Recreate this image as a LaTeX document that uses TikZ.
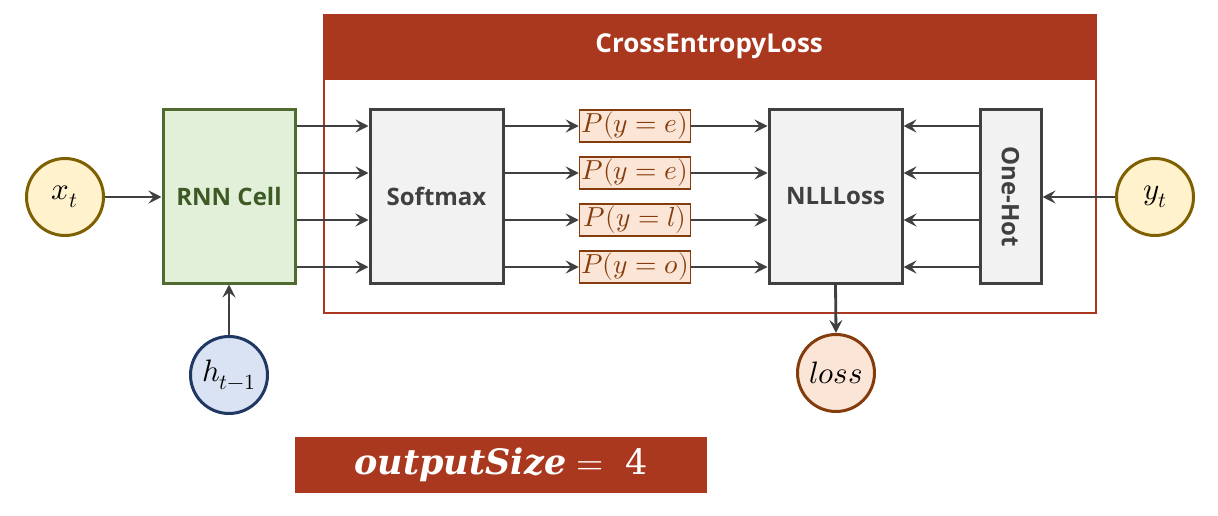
\documentclass[tikz,border=0pt]{standalone}
\usepackage{fontspec}
\usepackage{unicode-math}
\setmathfont{Latin Modern Math}
\setsansfont{Open Sans}
\newfontfamily\bannerfont{DejaVu Serif}
\usetikzlibrary{arrows.meta,positioning}
\definecolor{hdrred}{HTML}{A9381F}
\definecolor{grnfill}{HTML}{E2EFD9}
\definecolor{grnline}{HTML}{4F6B2F}
\definecolor{grntext}{HTML}{3D5A24}
\definecolor{grayfill}{HTML}{F2F2F2}
\definecolor{grayline}{HTML}{404040}
\definecolor{pfill}{HTML}{FBE5D6}
\definecolor{pline}{HTML}{843C0C}
\definecolor{yfill}{HTML}{FFF2CC}
\definecolor{yline}{HTML}{7F6000}
\definecolor{bfill}{HTML}{DAE3F3}
\definecolor{bline}{HTML}{203864}
\tikzset{
  x=1pt,y=-1pt,
  lblfont/.style={font=\sffamily\bfseries\fontsize{24}{28}\selectfont},
  blockbox/.style={draw=grayline,fill=grayfill,line width=3pt,minimum width=133pt,minimum height=173pt,inner sep=0pt,
     lblfont,text=grayline},
  pbox/.style={draw=pline,fill=pfill,line width=1.5pt,minimum width=111pt,minimum height=32pt,inner sep=0pt,
     text=pline,font=\fontsize{27.5}{29}\selectfont},
  varcirc/.style={circle,line width=3pt,minimum size=77pt,inner sep=0pt,font=\fontsize{31}{33}\selectfont},
  conn/.style={draw=grayline,line width=2.8pt,-{Stealth[length=13pt,width=13pt,inset=5pt]}},
}
\begin{document}
\begin{tikzpicture}
\useasboundingbox (0,0) rectangle (1218,516);
% outer CrossEntropyLoss frame
\node[draw=hdrred,line width=2pt,minimum width=772pt,minimum height=298pt,inner sep=0pt,anchor=north west] (ce) at (323,14) {};
\node[fill=hdrred,minimum width=773pt,minimum height=66pt,inner sep=0pt,anchor=north west,text=white,
      font=\sffamily\bfseries\fontsize{26}{30}\selectfont] (cehdr) at (322.5,13.5) {CrossEntropyLoss};
% row coordinates
\coordinate (r1) at (0,126);
\coordinate (r2) at (0,173);
\coordinate (r3) at (0,220);
\coordinate (r4) at (0,267);
% blocks
\node[blockbox,draw=grnline,fill=grnfill,text=grntext,minimum width=132pt] (rnn) at (229,196.5) {RNN Cell};
\node[blockbox] (soft) at (436.5,196.5) {Softmax};
\node[blockbox] (nll) at (835.5,196.5) {NLLLoss};
\node[blockbox,minimum width=61pt] (oh) at (1010.5,196.5) {};
\node[rotate=-90,lblfont,text=grayline] (ohtext) at (oh.center) {One-Hot};
% probability boxes
\node[pbox] (p1) at (635,126) {$P(y=e)$};
\node[pbox] (p2) at (635,173) {$P(y=e)$};
\node[pbox] (p3) at (635,220) {$P(y=l)$};
\node[pbox] (p4) at (635,267) {$P(y=o)$};
% circles
\node[varcirc,draw=yline,fill=yfill] (xt) at (65,197) {$x_t$};
\node[varcirc,draw=bline,fill=bfill] (ht) at (229,375) {$h_{t-1}$};
\node[varcirc,draw=yline,fill=yfill] (yt) at (1155,197) {$y_t$};
\node[varcirc,draw=pline,fill=pfill] (loss) at (836,373) {$loss$};
% output size banner
\node[fill=hdrred,minimum width=412pt,minimum height=56pt,inner sep=0pt,text=white,
      font=\fontsize{35}{40}\selectfont] (osz) at (501,465) {{\bannerfont\bfseries\itshape outputSize}\ $=$\ \ {\bannerfont 4}};
% connectors
\draw[conn] (xt) -- (rnn.west |- xt);
\draw[conn] (ht) -- (rnn.south);
\foreach \r/\p in {r1/p1,r2/p2,r3/p3,r4/p4}{
  \draw[conn] (rnn.east |- \r) -- (soft.west |- \r);
  \draw[conn] (soft.east |- \r) -- (\p.west);
  \draw[conn] (\p.east) -- (nll.west |- \r);
  \draw[conn] (oh.west |- \r) -- (nll.east |- \r);
}
\draw[conn] (yt) -- (oh.east |- yt);
\draw[conn] (nll.south) -- (loss.north);
\end{tikzpicture}
\end{document}
